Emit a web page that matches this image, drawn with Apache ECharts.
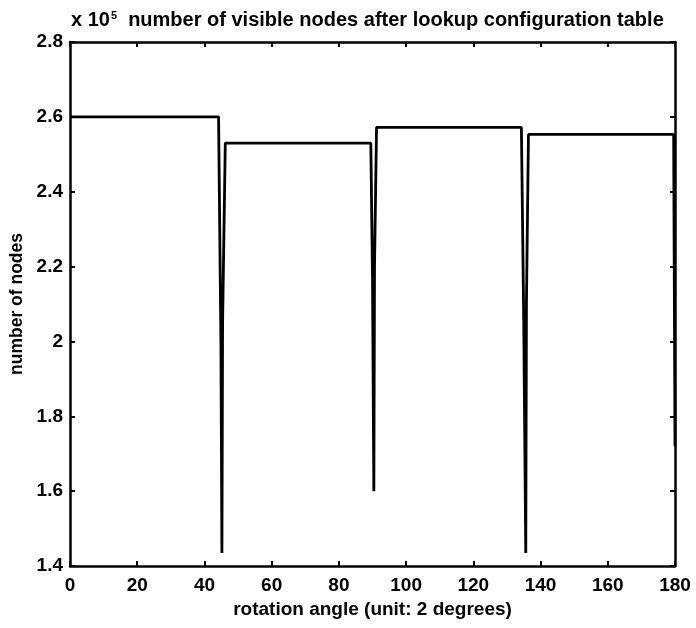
<!DOCTYPE html>
<html>
<head>
<meta charset="utf-8">
<script src="https://cdn.jsdelivr.net/npm/echarts@6/dist/echarts.min.js"></script>
<style>
html,body{margin:0;padding:0;background:#fff;}
#chart{width:696px;height:628px;}
</style>
</head>
<body>
<div id="chart"></div>
<script>
// rotation angle (unit: 2 degrees)
const angles = [0, 44.2, 44.9, 45.2, 45.4, 46.2, 89.5, 90.0, 90.4, 90.6, 91.2, 134.3, 135.0, 135.6, 135.8, 136.4, 179.6, 180];
// number of nodes (x 10^5)
const nodes  = [2.60, 2.60, 2.00, 1.435, 2.05, 2.53, 2.53, 2.17, 1.60, 2.20, 2.572, 2.572, 2.05, 1.435, 2.10, 2.553, 2.553, 1.72];
const xTicks = [0, 20, 40, 60, 80, 100, 120, 140, 160, 180];
const yTicks = [1.4, 1.6, 1.8, 2.0, 2.2, 2.4, 2.6, 2.8];

const font = 'Liberation Sans, Arial, sans-serif';
const chart = echarts.init(document.getElementById('chart'), null, {renderer: 'canvas'});
const pairs = angles.map((a, i) => [a, nodes[i]]);

const axisCommon = {
  axisLine: {show: true, onZero: false, lineStyle: {color: '#000', width: 2.5}},
  axisTick: {show: true, inside: true, length: 5, lineStyle: {color: '#000', width: 2}},
  splitLine: {show: false}
};

chart.setOption({
  animation: false,
  backgroundColor: '#fff',
  title: {
    text: '{a|x 10}{s|5}{b|  number of visible nodes after lookup configuration table}',
    left: 66, top: 5,
    textStyle: {
      rich: {
        a: {fontFamily: font, fontWeight: 'bold', fontSize: 20, color: '#000'},
        s: {fontFamily: font, fontWeight: 'bold', fontSize: 11, color: '#000', verticalAlign: 'top', padding: [0, 0, 9, 1]},
        b: {fontFamily: font, fontWeight: 'bold', fontSize: 20, color: '#000'}
      }
    }
  },
  grid: {left: 70, right: 21, top: 42, bottom: 62, containLabel: false, outerBoundsMode: 'none'},
  xAxis: [
    Object.assign({
      type: 'value', position: 'bottom', min: 0, max: 180, interval: 20,
      name: 'rotation angle (unit: 2 degrees)', nameLocation: 'middle', nameGap: 33,
      nameTextStyle: {fontFamily: font, fontWeight: 'bold', fontSize: 19, color: '#000'},
      axisLabel: {fontFamily: font, fontWeight: 'bold', fontSize: 19, color: '#000', margin: 10}
    }, axisCommon),
    Object.assign({
      type: 'value', position: 'top', min: 0, max: 180, interval: 20,
      axisLabel: {show: false}
    }, axisCommon)
  ],
  yAxis: [
    Object.assign({
      type: 'value', position: 'left', min: 1.4, max: 2.8, interval: 0.2,
      name: 'number of nodes', nameLocation: 'middle', nameGap: 43, nameRotate: 90,
      nameTextStyle: {fontFamily: font, fontWeight: 'bold', fontSize: 17.5, color: '#000'},
      axisLabel: {fontFamily: font, fontWeight: 'bold', fontSize: 19, color: '#000', margin: 7,
        formatter: v => String(Math.round(v * 10) / 10)}
    }, axisCommon),
    Object.assign({
      type: 'value', position: 'right', min: 1.4, max: 2.8, interval: 0.2,
      axisLabel: {show: false}
    }, axisCommon)
  ],
  series: [{
    type: 'line',
    data: pairs,
    xAxisIndex: 0, yAxisIndex: 0,
    showSymbol: false,
    lineStyle: {color: '#000', width: 2.8},
    clip: true
  }]
});
</script>
</body>
</html>
